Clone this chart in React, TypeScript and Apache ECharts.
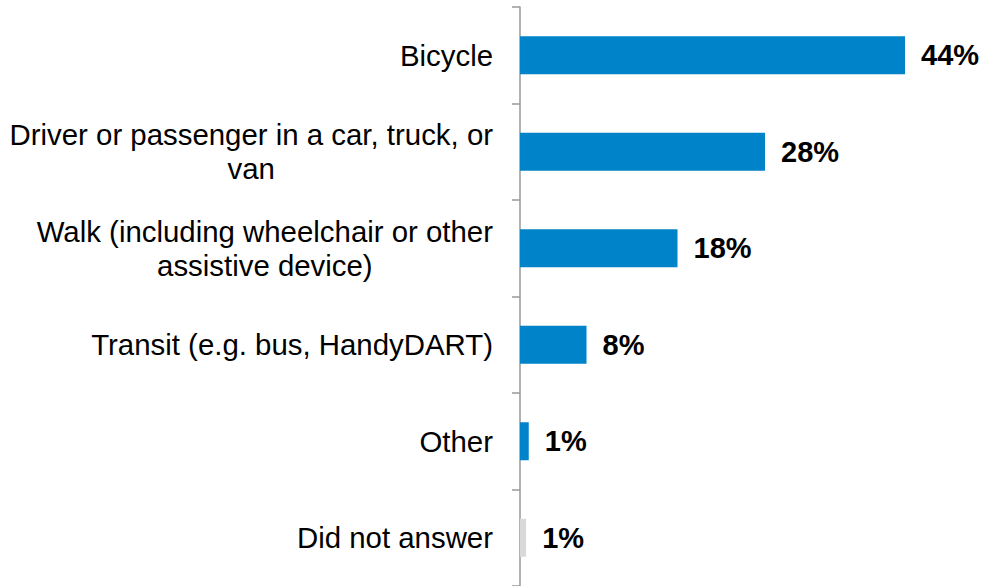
import React, { useEffect, useRef } from "react";
import * as echarts from "echarts";

const categories: string[] = [
  "Bicycle",
  "Driver or passenger in a car, truck, or\nvan",
  "Walk (including wheelchair or other\nassistive device)",
  "Transit (e.g. bus, HandyDART)",
  "Other",
  "Did not answer",
];
const values: number[] = [44, 28, 18, 7.6, 1, 0.7];
const barColors: string[] = ["#0083C8", "#0083C8", "#0083C8", "#0083C8", "#0083C8", "#D9D9D9"];

const FONT = "'Liberation Sans', Arial, Helvetica, sans-serif";

export default function App() {
  const ref = useRef<HTMLDivElement>(null);
  useEffect(() => {
    if (!ref.current) return;
    const chart = echarts.init(ref.current, undefined, { renderer: "svg" });
    chart.setOption({
      animation: false,
      backgroundColor: "#FFFFFF",
      grid: { left: 520, right: 24.5, top: 7, bottom: -2, containLabel: false },
      xAxis: {
        type: "value",
        min: 0,
        max: 50,
        show: false,
        splitLine: { show: false },
      },
      yAxis: {
        type: "category",
        inverse: true,
        data: categories,
        axisLine: { show: true, lineStyle: { color: "#999999", width: 1.5 } },
        axisTick: { show: true, length: 8, lineStyle: { color: "#999999", width: 1.5 } },
        axisLabel: {
          interval: 0,
          margin: 27,
          align: "right",
          color: "#000000",
          fontFamily: FONT,
          fontSize: 29.4,
          formatter: (v: string) => v.split("\n").map((l) => `{c|${l}}`).join("\n"),
          rich: {
            c: { align: "center", fontFamily: FONT, fontSize: 29.4, lineHeight: 34, color: "#000000" },
          },
        },
      },
      series: [
        {
          type: "bar",
          barWidth: 38,
          data: values.map((v, i) => ({ value: v, itemStyle: { color: barColors[i] } })),
          label: {
            show: true,
            position: "right",
            distance: 16,
            formatter: (p: any) => `${Math.round(p.value)}%`,
            color: "#000000",
            fontFamily: FONT,
            fontSize: 29,
            fontWeight: "bold",
          },
        },
      ],
    });
    return () => chart.dispose();
  }, []);
  return (
    <div
      ref={ref}
      style={{ position: "absolute", left: 0, top: 0, width: 982, height: 586 }}
    />
  );
}
